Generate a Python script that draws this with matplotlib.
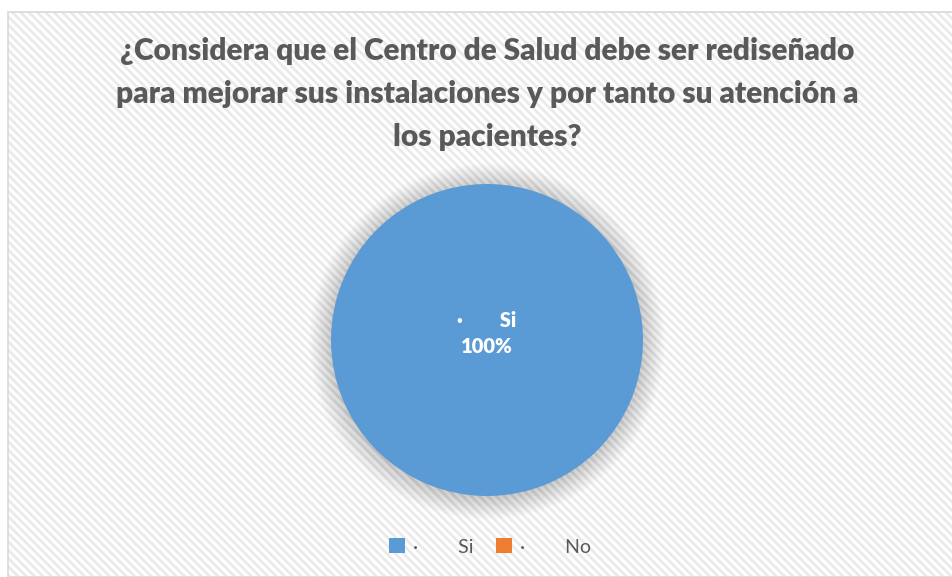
import numpy as np
import matplotlib
matplotlib.use("Agg")
import matplotlib.pyplot as plt
from matplotlib.patches import Rectangle, Circle

# datos de la encuesta
categorias = ["Si", "No"]
valores = [100, 0]
colores = ["#5b9bd5", "#ed7d31"]
titulo = ("¿Considera que el Centro de Salud debe ser rediseñado\n"
          "para mejorar sus instalaciones y por tanto su atención a\n"
          "los pacientes?")

plt.rcParams["font.family"] = ["Lato", "DejaVu Sans"]
plt.rcParams["hatch.linewidth"] = 2.0

W, H = 952, 577
fig = plt.figure(figsize=(W / 100, H / 100), dpi=100)
fig.patch.set_facecolor("white")

# marco con fondo rayado
fondo = Rectangle((8 / W, 0), 1.0, 1 - 12 / H, transform=fig.transFigure,
                  facecolor="white", edgecolor="#eaeaea", hatch="\\\\\\\\",
                  linewidth=0, zorder=-2)
borde = Rectangle((8 / W, 0), 1.0, 1 - 12 / H, transform=fig.transFigure,
                  facecolor="none", edgecolor="#d9d9d9", linewidth=1.2,
                  zorder=-1)
fig.patches.extend([fondo, borde])

fig.text(487 / W, 1 - 94 / H, titulo, ha="center", va="center",
         fontsize=21.5, fontweight="heavy", color="#595959", linespacing=1.65)

# pastel
r_px = 156
lim = 1.35
cx, cy = 487 / W, 1 - 340 / H
aw, ah = 2 * lim * r_px / W, 2 * lim * r_px / H
ax = fig.add_axes([cx - aw / 2, cy - ah / 2, aw, ah])
ax.set_zorder(1)
ax.patch.set_visible(False)

# sombra difusa
for rr in np.linspace(1.14, 1.0, 16):
    ax.add_patch(Circle((0.0, -0.01), rr, facecolor="#000000", alpha=0.011,
                        edgecolor="none", zorder=1))

wedges, _ = ax.pie(valores, colors=colores, startangle=90, counterclock=False,
                   radius=1.0, wedgeprops=dict(linewidth=0))
for w in wedges:
    w.set_zorder(2)
ax.set_xlim(-lim, lim)
ax.set_ylim(-lim, lim)
ax.set_aspect("equal")
ax.axis("off")

ax.text(0, 0.04, "·        " + categorias[0] + "\n" + f"{valores[0]}%",
        ha="center", va="center", color="white", fontsize=14.5,
        fontweight="heavy", linespacing=1.45, zorder=3)

leg = fig.legend(wedges, ["·        " + c for c in categorias],
                 loc="center", bbox_to_anchor=(490 / W, 1 - 547 / H), ncol=2,
                 frameon=False, fontsize=14, handlelength=0.8,
                 handleheight=0.8, handletextpad=0.4, columnspacing=1.2,
                 labelcolor="#595959")

fig.savefig("out.png", dpi=100)
